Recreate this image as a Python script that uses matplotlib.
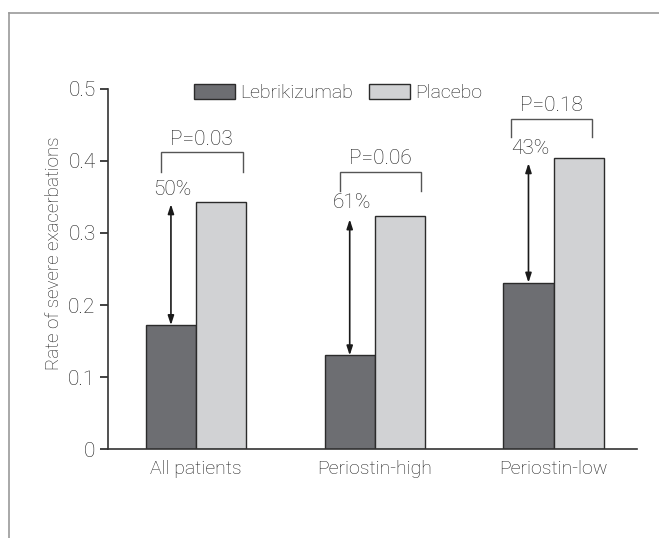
import matplotlib
matplotlib.use("Agg")
import matplotlib.pyplot as plt
from matplotlib.lines import Line2D
import numpy as np

categories = ["All patients", "Periostin-high", "Periostin-low"]
lebrikizumab = [0.172, 0.130, 0.231]
placebo = [0.343, 0.324, 0.404]
reduction_labels = ["50%", "61%", "43%"]
p_labels = ["P=0.03", "P=0.06", "P=0.18"]
# bracket: (left offset, right offset, top y, leg bottom y)
bracket_left = [-0.196, -0.193, -0.239]
bracket_right = [0.261, 0.260, 0.215]
bracket_top = [0.412, 0.385, 0.459]
bracket_bottom = [0.385, 0.358, 0.433]
p_label_y = [0.430, 0.403, 0.477]
arrow_top = [0.340, 0.319, 0.397]
pct_label_y = [0.360, 0.342, 0.418]
yticks = [0, 0.1, 0.2, 0.3, 0.4, 0.5]
ytick_labels = ["0", "0.1", "0.2", "0.3", "0.4", "0.5"]

FONT = ["Roboto", "DejaVu Sans"]
plt.rcParams["font.family"] = FONT
WEIGHT = "light"
TXT = "#1e1e1e"
DARK = "#6d6e72"
LIGHT = "#d1d2d4"
EDGE = "#2b2b2b"
FS = 15

fig = plt.figure(figsize=(6.59, 5.38), dpi=100)
ax = fig.add_axes([0.1639, 0.1654, 0.8027, 0.6692])

x = np.arange(len(categories))
w = 0.28
ax.bar(x - w / 2, lebrikizumab, w, color=DARK, edgecolor=EDGE, linewidth=1.0,
       label="Lebrikizumab", zorder=2)
ax.bar(x + w / 2, placebo, w, color=LIGHT, edgecolor=EDGE, linewidth=1.0,
       label="Placebo", zorder=2)

for i in range(len(categories)):
    xl = x[i] + bracket_left[i]
    xr = x[i] + bracket_right[i]
    ax.plot([xl, xl, xr, xr],
            [bracket_bottom[i], bracket_top[i], bracket_top[i], bracket_bottom[i]],
            color="#555555", lw=1.0, solid_joinstyle="miter")
    ax.text((xl + xr) / 2, p_label_y[i], p_labels[i], ha="center", va="center",
            fontsize=FS, color=TXT, fontweight=WEIGHT)
    ax.annotate("", xy=(x[i] - w / 2, lebrikizumab[i]),
                xytext=(x[i] - w / 2, arrow_top[i]),
                arrowprops=dict(arrowstyle="<|-|>,head_length=0.55,head_width=0.18",
                                color="#1a1a1a", lw=1.2, shrinkA=0, shrinkB=0))
    ax.text(x[i] - 0.13, pct_label_y[i], reduction_labels[i], ha="center", va="center",
            fontsize=FS, color=TXT, fontweight=WEIGHT)

ax.set_xlim(-0.492, 2.467)
ax.set_ylim(0, 0.5)
ax.set_yticks(yticks)
ax.set_yticklabels(ytick_labels)
ax.set_xticks(x)
ax.set_xticklabels(categories)
ax.tick_params(axis="x", length=0, pad=8, labelsize=14, labelcolor=TXT)
ax.tick_params(axis="y", length=6, width=1.2, color="#222222", pad=3,
               labelsize=FS, labelcolor=TXT)
for lab in ax.get_xticklabels() + ax.get_yticklabels():
    lab.set_fontweight(WEIGHT)
for s in ["top", "right"]:
    ax.spines[s].set_visible(False)
for s in ["left", "bottom"]:
    ax.spines[s].set_color("#333333")
    ax.spines[s].set_linewidth(1.2)

ax.set_ylabel("Rate of severe exacerbations", fontsize=13.5, color=TXT,
              fontweight=WEIGHT)
ax.yaxis.set_label_coords(-0.085, 0.544)

leg = fig.legend(loc="center", bbox_to_anchor=(0.513, 0.827), ncol=2, frameon=False,
                 fontsize=14, handlelength=2.1, handleheight=0.8,
                 handletextpad=0.3, columnspacing=0.8)
for t in leg.get_texts():
    t.set_color(TXT)
    t.set_fontweight(WEIGHT)

# frame
fig.add_artist(Line2D([0.0137, 1.0], [0.9758, 0.9758], transform=fig.transFigure,
                      color="#9a9a9a", lw=1.2))
fig.add_artist(Line2D([0.0137, 0.0137], [0.0, 0.9758], transform=fig.transFigure,
                      color="#9a9a9a", lw=1.2))

fig.savefig("out.png", dpi=100)
